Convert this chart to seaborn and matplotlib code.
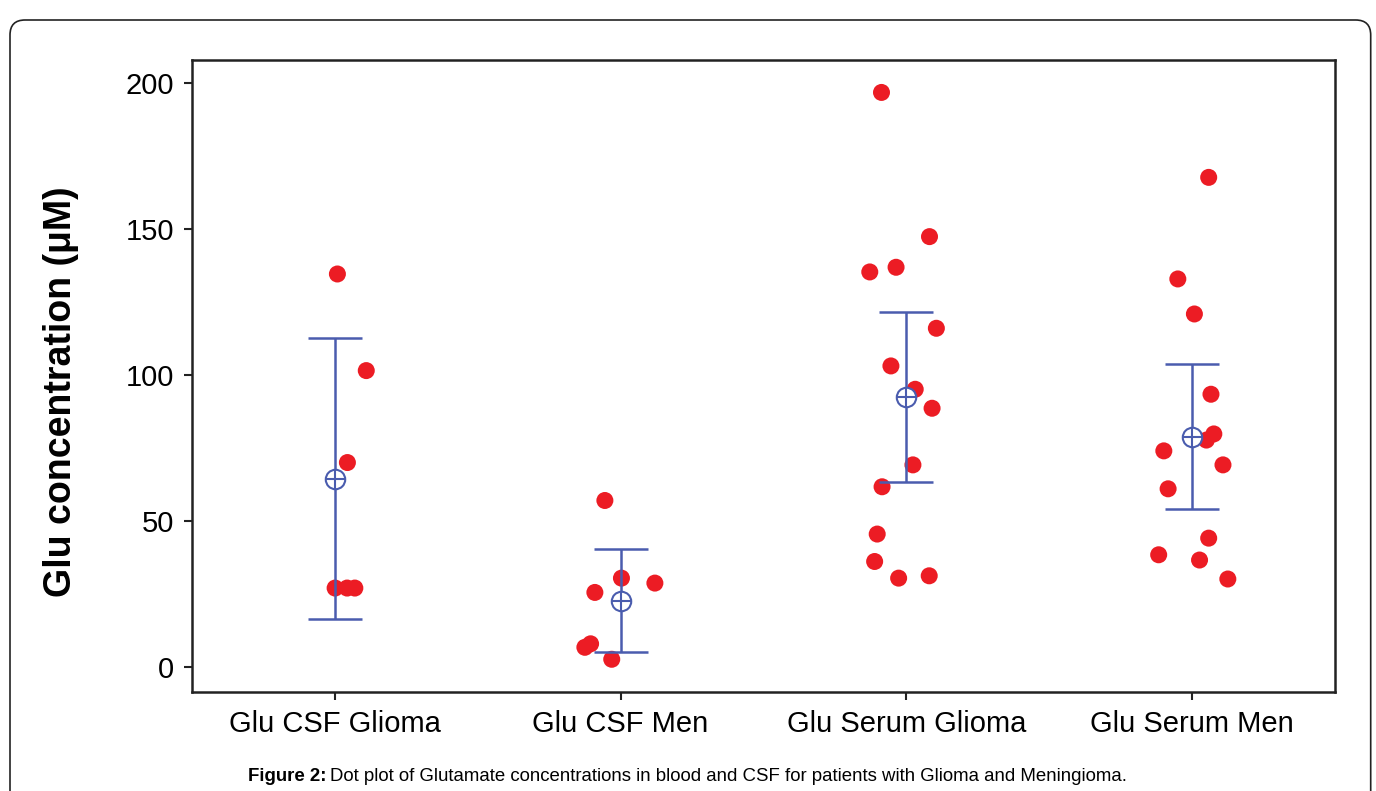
import numpy as np
import pandas as pd
import seaborn as sns
import matplotlib.pyplot as plt
from matplotlib.patches import FancyBboxPatch

# data ---------------------------------------------------
groups = ["Glu CSF Glioma", "Glu CSF Men", "Glu Serum Glioma", "Glu Serum Men"]

csf_glioma = [134.6, 101.5, 70.0, 27.0, 27.0, 27.0]
csf_men = [57.0, 30.4, 28.7, 25.5, 7.9, 6.7, 2.6]
serum_glioma = [196.8, 147.4, 136.9, 135.3, 116.0, 103.1, 95.1,
                88.6, 69.2, 61.7, 45.5, 36.1, 30.4, 31.2]
serum_men = [167.7, 132.9, 120.9, 93.4, 79.8, 77.7, 74.0,
             69.2, 61.0, 44.1, 38.4, 36.6, 30.1]

# horizontal jitter of each dot (fraction of category spacing)
csf_glioma_jit = [0.009, 0.110, 0.044, 0.001, 0.043, 0.070]
csf_men_jit = [-0.055, 0.003, 0.120, -0.090, -0.105, -0.125, -0.031]
serum_glioma_jit = [-0.087, 0.081, -0.036, -0.128, 0.105, -0.054, 0.031,
                    0.090, 0.023, -0.085, -0.102, -0.111, -0.027, 0.080]
serum_men_jit = [0.058, -0.050, 0.008, 0.066, 0.076, 0.050, -0.099,
                 0.108, -0.084, 0.058, -0.117, 0.026, 0.125]

# two-sided 95% t critical values by degrees of freedom
t95 = {5: 2.571, 6: 2.447, 12: 2.179, 13: 2.160}

values = [csf_glioma, csf_men, serum_glioma, serum_men]
jitters = [csf_glioma_jit, csf_men_jit, serum_glioma_jit, serum_men_jit]

rows = []
for i, (g, vals, jit) in enumerate(zip(groups, values, jitters)):
    for v, j in zip(vals, jit):
        rows.append({"group": g, "pos": i + j, "value": v})
df = pd.DataFrame(rows)

red = "#ec1c24"
blue = "#4a5cae"

sns.set_style("white")
plt.rcParams["font.family"] = ["Liberation Sans", "DejaVu Sans"]
plt.rcParams["text.color"] = "black"

fig = plt.figure(figsize=(13.76, 7.91), dpi=100)
ax = fig.add_axes([0.1395, 0.1252, 0.8307, 0.7989])

sns.scatterplot(data=df, x="pos", y="value", color=red, s=150,
                edgecolor="none", ax=ax, zorder=2)

# mean and 95% CI
for i, vals in enumerate(values):
    a = np.array(vals)
    m = a.mean()
    half = t95[len(a) - 1] * a.std(ddof=1) / np.sqrt(len(a))
    ax.errorbar(i, m, yerr=half, fmt="none", ecolor=blue, elinewidth=1.8,
                capsize=19.5, capthick=1.8, zorder=3)
    ax.plot(i, m, "o", mfc="white", mec=blue, ms=14, mew=1.5, zorder=4)
    ax.plot(i, m, "+", color=blue, ms=14, mew=1.5, zorder=5)

ax.set_xlim(-0.5, 3.5)
ax.set_ylim(-8.6, 207.9)
ax.set_xticks(range(len(groups)))
ax.set_xticklabels(groups)
ax.set_yticks([0, 50, 100, 150, 200])
ax.set_xlabel("")
ax.set_ylabel("Glu concentration (\u03bcM)", fontsize=27, fontweight="bold",
              color="black")
ax.yaxis.set_label_coords(-0.099, 0.475)

for sp in ax.spines.values():
    sp.set_color("#222222")
    sp.set_linewidth(1.8)
ax.tick_params(axis="both", direction="out", length=6, width=1.5,
               color="#222222", labelsize=21, pad=7, labelcolor="black")
ax.tick_params(left=True, bottom=True)

# outer rounded frame
frame = FancyBboxPatch((0.1, -0.5), 13.607, 8.21,
                       boxstyle="round,pad=0,rounding_size=0.15",
                       transform=fig.dpi_scale_trans, fill=False,
                       edgecolor="#222222", linewidth=1.2, clip_on=False)
fig.patches.append(frame)

# caption
t1 = fig.text(248 / 1376, 1 - 781 / 791, "Figure 2:", fontsize=13.4,
              fontweight="bold", ha="left", va="baseline", color="black")
fig.canvas.draw()
bb = t1.get_window_extent()
fig.text(bb.x1 / fig.bbox.width + 4 / 1376, 1 - 781 / 791,
         "Dot plot of Glutamate concentrations in blood and CSF for patients with Glioma and Meningioma.",
         fontsize=13.4, ha="left", va="baseline", color="black")

fig.savefig("out.png", dpi=100)
